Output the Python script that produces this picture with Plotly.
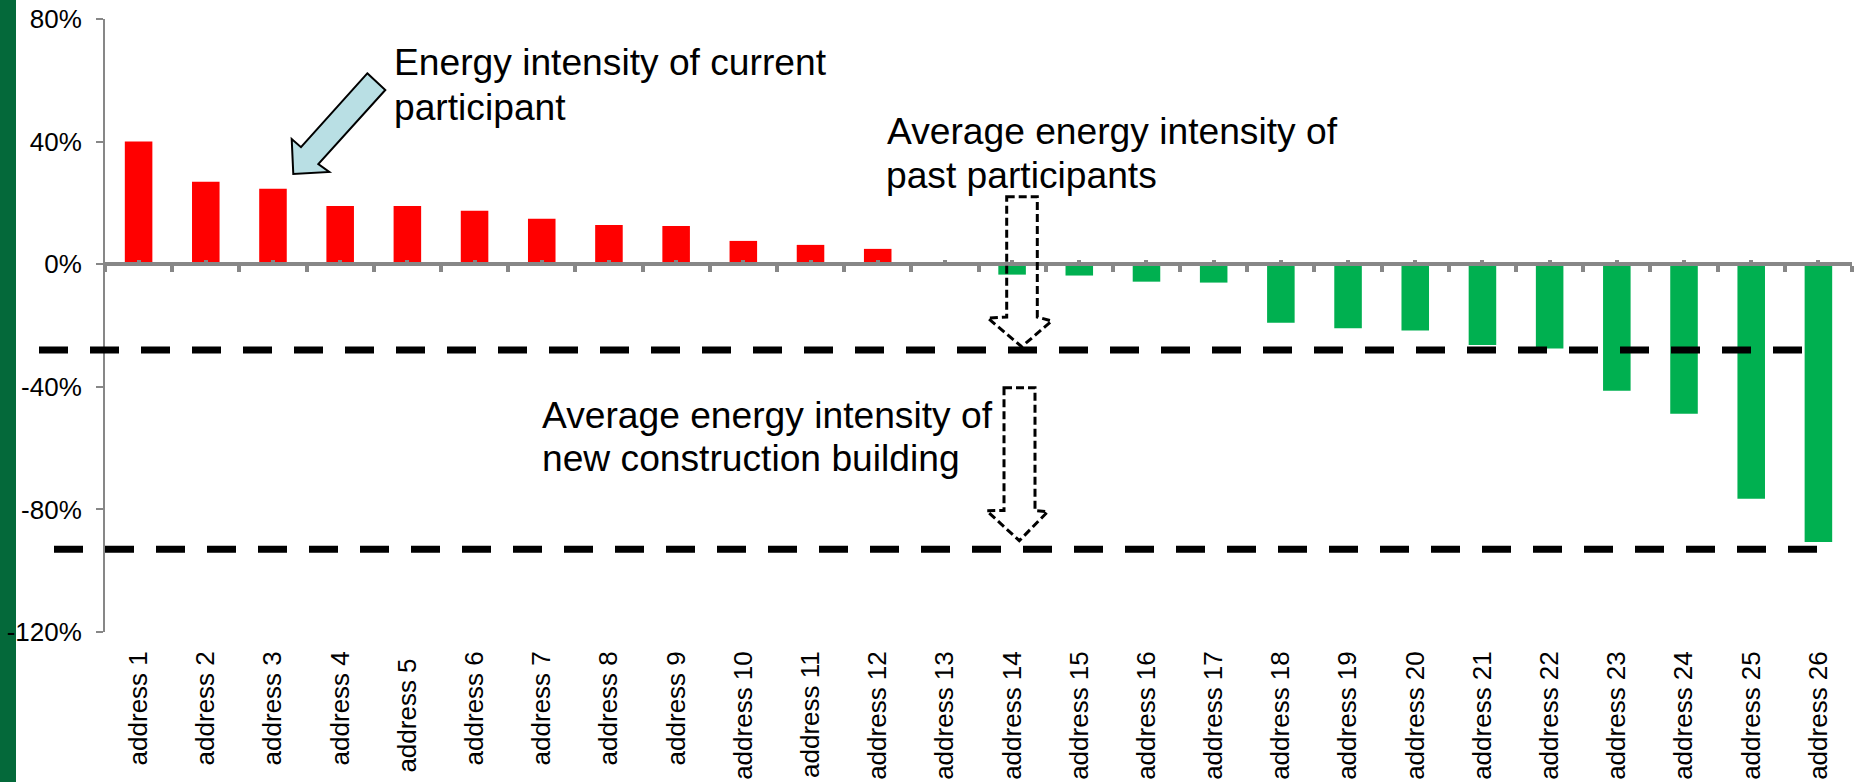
import plotly.graph_objects as go

# ---- data -------------------------------------------------------------
addresses = [
    "address 1", "address 2", "address 3", "address 4", "address 5\u00a0",
    "address 6", "address 7", "address 8", "address 9", "address 10",
    "address 11", "address 12", "address 13", "address 14", "address 15",
    "address 16", "address 17", "address 18", "address 19", "address 20",
    "address 21", "address 22", "address 23", "address 24", "address 25",
    "address 26",
]
# energy intensity relative to the baseline, in percent
intensity_change = [
    40.0, 26.9, 24.6, 19.0, 19.0, 17.4, 14.8, 12.8, 12.5, 7.6,
    6.3, 5.0, 0.0, -3.4, -3.7, -5.7, -6.0, -19.1, -20.9, -21.6,
    -26.4, -27.5, -41.3, -48.8, -76.5, -90.6,
]
past_participants_avg = -28.0
new_construction_avg = -93.0

y_ticks = [-120, -80, -40, 0, 40, 80]
y_tick_labels = ["-120%", "-80%", "-40%", "0%", "40%", "80%"]
y_range = [-120, 80]

# ---- styling ----------------------------------------------------------
FONT = "Liberation Sans, Arial, sans-serif"
RED = "#FF0000"
GREEN = "#00B050"
AXIS_GREY = "#878787"
SIDEBAR_GREEN = "#04693A"
ARROW_FILL = "#B9DFE4"

W, H = 1858, 782
M_L, M_R, M_T, M_B = 105, 6, 19, 150
PW = W - M_L - M_R
PH = H - M_T - M_B


def px(x):
    """page pixel x -> paper fraction"""
    return (x - M_L) / PW


def py(y):
    """page pixel y (from top) -> paper fraction"""
    return (H - M_B - y) / PH


def poly_path(points):
    return "M " + " L ".join(f"{px(x):.5f},{py(y):.5f}" for x, y in points) + " Z"


n = len(addresses)
x_span = [-0.5, n - 0.5]
centers = list(range(n))
boundaries = [i - 0.5 for i in range(n + 1)]
zero_pos = (0 - y_range[0]) / (y_range[1] - y_range[0])

bar_colors = [RED if v > 0 else GREEN for v in intensity_change]

fig = go.Figure()
fig.add_trace(go.Bar(
    x=addresses, y=intensity_change,
    marker=dict(color=bar_colors, line=dict(width=0)),
    showlegend=False, hoverinfo="x+y",
))
# helper traces so the zero-line axes get created
fig.add_trace(go.Scatter(x=[], y=[], xaxis="x2", yaxis="y", showlegend=False))
fig.add_trace(go.Scatter(x=[], y=[], xaxis="x3", yaxis="y", showlegend=False))

shapes = []
# dark green strip on the left edge
shapes.append(dict(type="rect", xref="paper", yref="paper",
                   x0=px(0), x1=px(16), y0=py(H), y1=py(0),
                   fillcolor=SIDEBAR_GREEN, line=dict(width=0), layer="below"))
# average reference lines
shapes.append(dict(type="line", xref="paper", yref="y",
                   x0=px(39), x1=px(1815),
                   y0=past_participants_avg, y1=past_participants_avg,
                   line=dict(color="black", width=7, dash="29px,22px"),
                   layer="above"))
shapes.append(dict(type="line", xref="paper", yref="y",
                   x0=px(54), x1=px(1830),
                   y0=new_construction_avg, y1=new_construction_avg,
                   line=dict(color="black", width=7, dash="29px,22px"),
                   layer="above"))
# block arrow pointing at the current participant
shapes.append(dict(type="path", xref="paper", yref="paper",
                   path=poly_path([(367.3, 73.3), (385.3, 90.0), (318.3, 164.0),
                                   (329.3, 172.0), (293.3, 174.0), (291.7, 139.0),
                                   (301.0, 147.2)]),
                   fillcolor=ARROW_FILL, line=dict(color="black", width=2),
                   layer="above"))
# dashed outline arrows pointing down to the reference lines
shapes.append(dict(type="path", xref="paper", yref="paper",
                   path=poly_path([(1006.7, 196.7), (1037.3, 196.7), (1037.3, 317.0),
                                   (1051.7, 321.0), (1021.7, 346.7), (987.7, 318.0),
                                   (1006.7, 317.0)]),
                   line=dict(color="black", width=3, dash="8px,4px"),
                   layer="above"))
shapes.append(dict(type="path", xref="paper", yref="paper",
                   path=poly_path([(1004.0, 387.7), (1035.0, 387.7), (1035.0, 510.5),
                                   (1047.7, 511.7), (1019.3, 540.7), (986.7, 510.7),
                                   (1004.0, 510.5)]),
                   line=dict(color="black", width=3, dash="8px,4px"),
                   layer="above"))

TEXT_SIZE = 37.2


def label(text, x, top):
    return dict(text=text, xref="paper", yref="paper", x=px(x), y=py(top),
                xanchor="left", yanchor="top", showarrow=False,
                font=dict(family=FONT, size=TEXT_SIZE, color="black"))


annotations = [
    label("Energy intensity of current", 392, 38.6),
    label("participant", 392, 83.6),
    label("Average energy intensity of", 885, 107.9),
    label("past participants", 884, 151.9),
    label("Average energy intensity of", 540, 391.9),
    label("new construction building", 540, 435.3),
]

fig.update_layout(
    width=W, height=H,
    margin=dict(l=M_L, r=M_R, t=M_T, b=M_B, pad=0, autoexpand=False),
    paper_bgcolor="white", plot_bgcolor="white",
    bargap=0.59,
    font=dict(family=FONT, color="black"),
    shapes=shapes, annotations=annotations,
    xaxis=dict(
        type="category", categoryorder="array", categoryarray=addresses,
        range=x_span, showline=False, ticks="", showgrid=False, zeroline=False,
        tickangle=-90, tickfont=dict(family=FONT, size=26, color="black"),
        ticklabelstandoff=13, automargin=False, fixedrange=True,
    ),
    xaxis2=dict(
        type="linear", overlaying="x", anchor="free", position=zero_pos,
        range=x_span, showline=True, linecolor=AXIS_GREY, linewidth=4,
        tickmode="array", tickvals=boundaries, ticks="outside",
        ticklen=6, tickwidth=4, tickcolor=AXIS_GREY,
        showticklabels=False, showgrid=False, zeroline=False,
        automargin=False, fixedrange=True,
    ),
    xaxis3=dict(
        type="linear", overlaying="x", anchor="free", position=zero_pos,
        range=x_span, showline=False,
        tickmode="array", tickvals=centers, ticks="inside",
        ticklen=4, tickwidth=4, tickcolor=AXIS_GREY,
        showticklabels=False, showgrid=False, zeroline=False,
        automargin=False, fixedrange=True,
    ),
    yaxis=dict(
        range=y_range, tickmode="array", tickvals=y_ticks, ticktext=y_tick_labels,
        ticks="outside", ticklen=7, tickwidth=2, tickcolor=AXIS_GREY,
        showline=True, linecolor=AXIS_GREY, linewidth=2,
        showgrid=False, zeroline=False,
        tickfont=dict(family=FONT, size=26, color="black"),
        ticklabelstandoff=9, automargin=False, fixedrange=True,
    ),
)

fig.write_html("out.html", config={"displayModeBar": False})
